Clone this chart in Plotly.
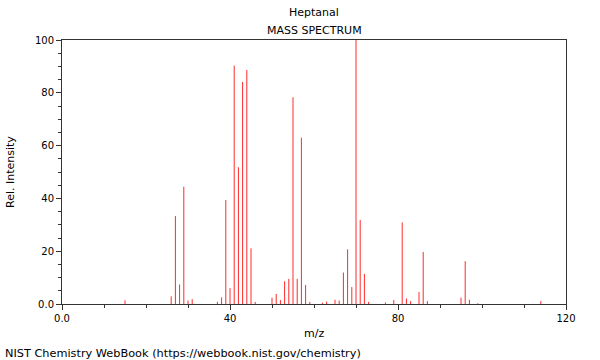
import plotly.graph_objects as go

# Data (m/z, relative intensity)
mz = [15, 26, 27, 28, 29, 30, 31, 37, 38, 39, 40, 41, 42, 43, 44, 45, 46,
      50, 51, 52, 53, 54, 55, 56, 57, 58, 59, 62, 63, 65, 66, 67, 68, 69,
      70, 71, 72, 73, 77, 79, 81, 82, 83, 85, 86, 87, 95, 96, 97, 99, 114]
intensity = [1.4, 2.9, 33.3, 7.4, 44.4, 1.3, 1.8, 0.8, 2.5, 39.4, 6.0, 90.3,
             51.8, 84.1, 88.6, 21.1, 0.8, 2.4, 3.8, 1.5, 8.6, 9.5, 78.3, 9.5,
             63.0, 7.2, 0.8, 0.5, 0.9, 1.6, 1.3, 11.9, 20.7, 6.4, 100.0, 31.8,
             11.4, 0.8, 0.6, 1.5, 30.9, 2.1, 1.1, 4.5, 19.7, 1.1, 2.4, 16.2,
             1.6, 0.3, 1.1]

x_ticks = [0, 40, 80, 120]
x_ticktext = ["0.0", "40", "80", "120"]
y_ticks = [0, 20, 40, 60, 80, 100]
y_ticktext = ["0.0", "20", "40", "60", "80", "100"]

xs, ys = [], []
for m, v in zip(mz, intensity):
    xs += [m, m, None]
    ys += [0, v, None]

W, H = 600, 360
L, R, T, B = 62, 34, 40, 56
pw, ph = W - L - R, H - T - B

fig = go.Figure()
fig.add_trace(go.Scatter(x=xs, y=ys, mode="lines",
                         line=dict(color="#ff2a2a", width=1),
                         hoverinfo="skip", showlegend=False))

font = dict(family="DejaVu Sans", size=10, color="#000")
tfont = dict(family="DejaVu Sans", size=11, color="#000")
axis_common = dict(showline=True, linecolor="#333", linewidth=1, mirror=True,
                   showgrid=False, zeroline=False, ticks="outside",
                   tickcolor="#333", tickfont=font)

fig.update_layout(
    width=W, height=H,
    margin=dict(l=L, r=R, t=T, b=B),
    paper_bgcolor="white", plot_bgcolor="white",
    font=font,
    xaxis=dict(range=[0, 120], tickvals=x_ticks, ticktext=x_ticktext,
               ticklen=5, tickwidth=1,
               minor=dict(dtick=10, ticklen=3, ticks="outside", tickcolor="#333"),
               **axis_common),
    yaxis=dict(range=[0, 100], tickvals=y_ticks, ticktext=y_ticktext,
               ticklen=5, tickwidth=1,
               minor=dict(dtick=5, ticklen=3, ticks="outside", tickcolor="#333"),
               **axis_common),
)

# convert page pixels to paper coordinates
def px_x(p):
    return (p - L) / pw

def px_y(p):
    return (T + ph - p) / ph

ann = [
    dict(text="Heptanal", x=px_x(314), y=px_y(13)),
    dict(text="MASS SPECTRUM", x=px_x(314), y=px_y(30)),
    dict(text="m/z", x=px_x(314), y=px_y(333)),
]
for a in ann:
    fig.add_annotation(xref="paper", yref="paper", showarrow=False,
                       xanchor="center", yanchor="middle", font=tfont, **a)
fig.add_annotation(text="Rel. Intensity", xref="paper", yref="paper",
                   x=px_x(10), y=px_y(172), textangle=-90, showarrow=False,
                   xanchor="center", yanchor="middle", font=tfont)
fig.add_annotation(text="NIST Chemistry WebBook (https://webbook.nist.gov/chemistry)",
                   xref="paper", yref="paper", x=px_x(3), y=px_y(353),
                   showarrow=False, xanchor="left", yanchor="middle",
                   font=dict(family="DejaVu Sans", size=11.3, color="#000"))

fig.write_html("out.html",
               config={"displayModeBar": False},
               post_script="document.body.style.margin='0';"
                           "document.body.style.overflow='hidden';")
